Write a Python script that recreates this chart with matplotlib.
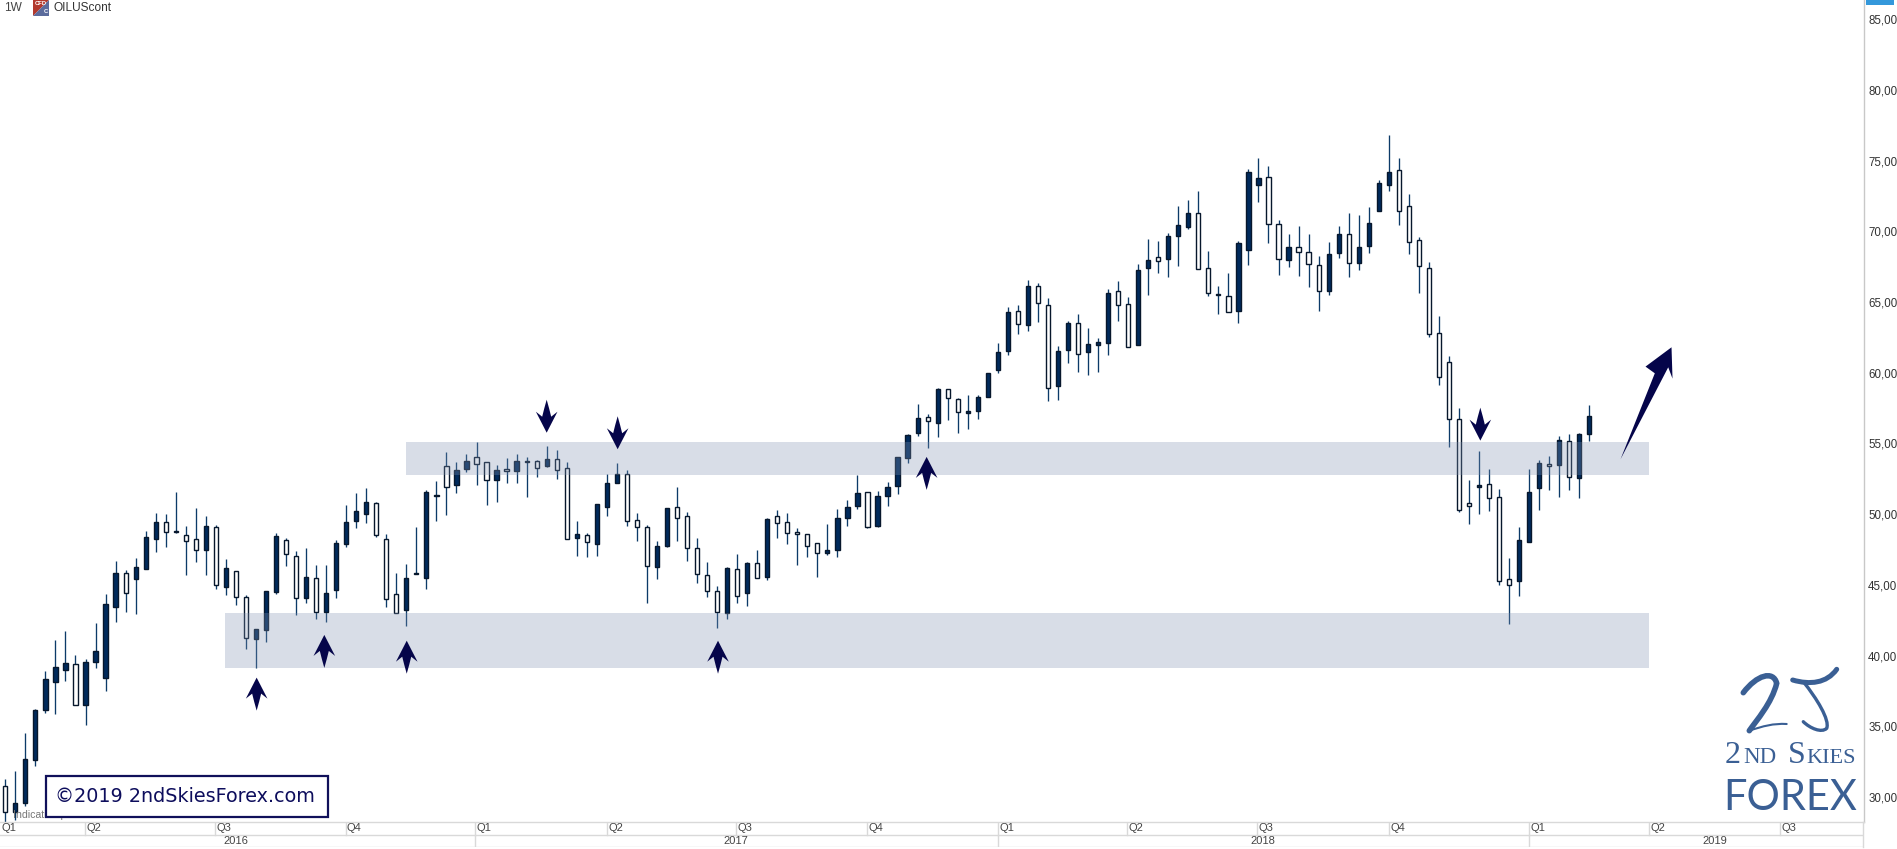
import matplotlib
matplotlib.use("Agg")
import matplotlib.pyplot as plt
from matplotlib.patches import Polygon, Rectangle, PathPatch
from matplotlib.path import Path
from matplotlib.transforms import IdentityTransform

# weekly candles, oldest first
bar_high = [31.27,31.84,34.50,36.20,38.89,41.08,41.72,40.02,39.74,42.30,44.33,46.67,46.03,46.88,48.79,50.06,49.99,51.55,49.14,50.41,
 49.85,49.21,46.81,45.96,44.26,41.88,44.59,48.65,48.29,47.37,47.59,46.38,46.38,48.15,50.63,51.47,51.83,50.84,48.58,45.82,
 46.45,49.07,51.69,52.32,54.37,53.67,54.23,55.08,53.67,53.46,53.95,54.23,54.02,53.81,54.82,54.52,53.67,49.49,48.65,50.70,
 52.82,53.60,53.10,50.06,49.21,48.08,50.41,51.90,50.13,48.29,46.60,44.90,46.24,47.16,46.60,47.44,49.71,50.27,50.06,49.00,
 48.58,47.94,49.28,50.34,50.98,52.75,51.55,51.62,52.25,54.07,55.65,57.79,57.06,58.90,58.83,58.19,58.40,58.40,59.96,62.08,
 64.63,64.77,66.54,66.33,65.26,61.87,63.64,64.13,63.14,62.44,65.90,66.47,65.34,67.67,69.46,69.32,69.86,71.79,72.22,72.85,
 68.59,66.12,67.04,69.30,74.39,75.17,74.60,70.78,69.79,70.36,69.79,68.24,69.23,70.36,71.28,71.14,71.70,73.61,76.82,75.17,
 72.62,69.58,67.81,64.00,61.17,57.49,52.40,54.45,53.18,51.76,46.88,49.07,53.18,53.81,54.10,55.51,55.65,55.72,57.70]
bar_top = [30.80,29.55,32.66,36.13,38.32,39.17,39.45,39.38,39.52,40.30,43.62,45.82,45.82,46.24,48.36,49.42,49.42,48.79,48.50,48.22,
 49.14,49.07,46.17,45.96,44.12,41.88,44.54,48.43,48.15,47.02,45.58,45.46,44.40,47.94,49.42,50.20,50.84,50.77,48.22,44.33,
 45.46,45.82,51.55,51.33,53.38,53.10,53.74,54.02,53.67,53.10,53.17,53.74,53.74,53.74,53.88,53.88,53.24,48.58,48.50,50.70,
 52.18,52.82,52.82,49.57,49.07,47.73,50.41,50.48,49.85,47.59,45.68,44.54,46.17,46.10,46.52,46.52,49.64,49.85,49.42,48.72,
 48.58,47.94,47.44,49.71,50.48,51.47,51.55,51.26,51.90,54.02,55.58,56.78,56.85,58.83,58.83,58.12,57.27,58.26,59.96,61.45,
 64.27,64.35,66.11,66.11,64.77,61.52,63.50,63.50,62.01,62.15,65.62,65.76,64.84,67.24,67.95,68.16,69.65,70.43,71.27,71.27,
 67.39,65.55,65.41,69.16,74.18,73.75,73.83,70.50,68.87,68.87,68.52,67.60,68.38,69.79,69.79,68.87,70.57,73.40,74.18,74.32,
 71.77,69.37,67.39,62.79,60.74,56.71,50.77,52.04,52.12,51.20,45.40,48.15,51.55,53.60,53.53,55.23,55.16,55.65,56.92]
bar_bottom = [28.91,28.91,29.60,32.59,36.13,38.16,38.96,36.48,36.48,39.52,38.39,43.46,44.40,45.39,46.10,48.22,48.72,48.72,48.08,47.44,
 47.44,44.97,44.83,44.12,41.22,41.15,41.79,44.47,47.16,44.05,44.05,43.06,43.06,44.61,47.87,49.49,49.99,48.50,43.98,42.99,
 43.20,45.79,45.46,51.31,51.90,52.04,53.17,53.53,52.39,52.39,53.03,53.03,53.67,53.24,53.38,53.10,48.22,48.29,48.01,47.87,
 50.48,52.18,49.49,49.07,46.31,46.24,47.73,49.71,47.59,45.75,44.54,43.06,42.99,44.19,44.40,45.46,45.53,49.35,48.65,48.58,
 47.73,47.23,47.23,47.44,49.71,50.56,49.07,49.14,51.31,52.02,53.95,55.72,56.57,56.42,58.19,57.20,57.13,57.27,58.26,60.17,
 61.52,63.43,63.36,64.91,58.90,59.04,61.59,61.30,61.45,61.94,62.08,64.77,61.80,61.94,67.39,67.88,68.02,69.69,70.33,67.34,
 65.62,65.48,64.28,64.35,68.66,73.26,70.50,68.03,67.96,68.52,67.67,65.76,65.76,68.45,67.74,67.74,68.95,71.42,73.26,71.42,
 69.23,67.53,62.72,59.68,56.71,50.28,50.56,51.90,51.13,45.26,44.97,45.26,48.01,51.83,53.39,53.46,52.61,52.54,55.65]
bar_low = [28.25,28.37,29.39,32.19,35.96,35.89,38.23,36.48,35.11,39.15,37.52,42.40,43.11,42.96,46.10,47.35,47.70,48.65,45.72,46.64,
 45.72,44.69,44.31,43.60,40.49,39.10,40.98,44.33,46.36,42.89,43.74,42.61,42.40,44.10,47.70,49.05,49.40,48.36,43.46,42.99,
 42.12,45.79,44.73,49.54,49.92,51.47,52.96,52.04,50.63,50.84,52.18,52.18,51.19,52.61,53.31,52.46,48.22,47.02,46.95,47.02,
 49.85,52.18,49.14,48.13,43.70,45.44,47.66,48.08,46.67,45.11,44.17,41.97,42.56,43.70,43.53,45.46,45.32,48.29,47.92,46.38,
 46.95,45.53,47.09,46.95,49.14,50.34,49.00,49.07,50.60,51.45,53.64,55.55,54.70,55.48,56.68,55.76,56.05,56.75,58.26,60.01,
 61.28,62.77,62.98,63.61,58.03,58.10,60.71,60.08,59.87,60.08,61.28,63.69,61.80,61.94,65.52,67.08,66.80,67.57,70.17,67.34,
 65.46,64.18,64.28,63.55,67.65,72.10,69.20,66.94,67.51,66.87,66.09,64.40,65.53,68.14,66.80,67.30,68.50,71.42,72.88,70.48,
 68.43,65.67,62.56,59.16,54.73,50.14,49.33,50.04,50.25,45.02,42.26,44.24,48.01,50.32,51.74,51.24,51.74,51.17,55.20]
bar_rising = [0,1,1,1,1,1,1,0,1,1,1,1,0,1,1,1,0,1,0,0,1,0,1,0,0,1,1,1,0,0,1,0,1,1,1,1,1,0,0,0,
 1,1,1,1,0,1,1,0,0,1,0,1,1,0,1,0,0,1,0,1,1,1,0,0,0,1,1,0,0,0,0,0,1,0,1,0,1,0,0,0,
 0,0,1,1,1,1,0,1,1,1,1,1,0,1,0,0,1,1,1,1,1,0,1,0,0,1,1,0,1,1,1,0,0,1,1,0,1,1,1,0,
 0,1,0,1,1,1,0,0,1,0,0,0,1,1,0,1,1,1,1,0,0,0,0,0,0,0,0,1,0,0,0,1,1,1,0,1,0,1,1]

price_ticks = [30, 35, 40, 45, 50, 55, 60, 65, 70, 75, 80, 85]
price_labels = ["30,00","35,00","40,00","45,00","50,00","55,00","60,00","65,00","70,00","75,00","80,00","85,00"]

quarter_pos = [-0.53, 7.92, 20.9, 33.95, 46.9, 60.0, 72.9, 86.0, 99.0, 111.9, 124.9, 138.0, 152.0, 164.0, 177.0]
quarter_labels = ["Q1","Q2","Q3","Q4","Q1","Q2","Q3","Q4","Q1","Q2","Q3","Q4","Q1","Q2","Q3"]
year_pos = [46.9, 99.0, 152.0]
year_label_pos = [23.0, 72.9, 125.4, 170.5]
year_labels = ["2016", "2017", "2018", "2019"]

zones = [(39.97, 163.96, 52.77, 55.13), (21.9, 163.96, 39.10, 43.04)]
up_arrows = [(25.07, 38.44), (31.82, 41.46), (40.04, 41.05), (71.09, 41.05), (91.9, 54.05)]
down_arrows = [(54.0, 55.76), (61.08, 54.59), (147.13, 55.2)]
big_arrow_tip = (166.2, 61.8)

W, H = 1897, 849
fig = plt.figure(figsize=(W/100, H/100), dpi=100, facecolor="white")
ax = fig.add_axes([0, 27/H, 1864/W, 822/H])
ax.set_xlim(-0.53, 185.4)
ax.set_ylim(28.23, 86.36)

DARK = "#002a5c"; EDGE = "#07172c"; WICK = "#0c3a68"; NAVY = "#05054a"; LOGO = "#3a5f94"
xs = list(range(len(bar_high)))
ax.vlines(xs, bar_low, bar_high, color=WICK, lw=0.95, zorder=2)
heights = [t - b for t, b in zip(bar_top, bar_bottom)]
colors = [DARK if r else "white" for r in bar_rising]
ax.bar(xs, heights, bottom=bar_bottom, width=0.42, color=colors, edgecolor=EDGE, linewidth=1.0, zorder=3)

for x0, x1, y0, y1 in zones:
    ax.add_patch(Rectangle((x0, y0), x1-x0, y1-y0, facecolor="#8294b3", alpha=0.31, edgecolor="none", zorder=4))

for s in ("top", "left", "bottom"):
    ax.spines[s].set_visible(False)
ax.spines["right"].set_color("#c8c8c8")
ax.spines["right"].set_linewidth(1.0)
ax.set_xticks([])
ax.yaxis.tick_right()
ax.set_yticks(price_ticks, price_labels)
ax.tick_params(axis="y", length=0, pad=3, labelsize=8.3, labelcolor="#333333")
for t in ax.get_yticklabels():
    t.set_fontfamily("Liberation Sans")

fig.canvas.draw()
def arrow(anchor, offsets):
    ax_, ay_ = ax.transData.transform(anchor)
    verts = [(ax_ + dx, ay_ - dy) for dx, dy in offsets]
    fig.add_artist(Polygon(verts, closed=True, facecolor=NAVY, edgecolor="none",
                           transform=IdentityTransform(), zorder=6))
up_shape = [(0,0),(10.8,21),(4.5,16),(2.5,24),(0,33),(-2.5,24),(-4.5,16),(-10.8,21)]
down_shape = [(x, -y) for x, y in up_shape]
for a in up_arrows:
    arrow(a, up_shape)
for a in down_arrows:
    arrow(a, down_shape)
arrow(big_arrow_tip, [(0,0),(1,31.3),(-3.3,20),(-51,112),(-16.7,26),(-26,19.3)])

# time band
band = fig.add_axes([0, 2/H, 1864/W, 25/H], sharex=ax)
band.set_ylim(0, 1)
band.axis("off")
GRID = "#d9d9d9"
band.plot([-0.53, 185.4], [1, 1], color=GRID, lw=1.0, clip_on=False)
band.plot([-0.53, 185.4], [0.5, 0.5], color=GRID, lw=1.0)
band.plot([-0.53, 185.4], [0.02, 0.02], color=GRID, lw=1.0)
band.plot([185.35, 185.35], [0, 1], color=GRID, lw=1.0, clip_on=False)
for q, lab in zip(quarter_pos, quarter_labels):
    if q > 0:
        band.plot([q, q], [0.5, 1], color=GRID, lw=1.0)
    band.text(q + 0.13, 0.75, lab, ha="left", va="center", fontsize=8.0, color="#444444", family="Liberation Sans")
for y in year_pos:
    band.plot([y, y], [0, 0.5], color=GRID, lw=1.0)
for xp, lab in zip(year_label_pos, year_labels):
    band.text(xp, 0.25, lab, ha="center", va="center", fontsize=8.0, color="#444444", family="Liberation Sans")

# overlay in pixel coordinates for the decorations
ov = fig.add_axes([0, 0, 1, 1], facecolor="none")
ov.set_xlim(0, W)
ov.set_ylim(H, 0)
ov.axis("off")
ov.text(4, 8, "1W", fontsize=8.6, va="center", color="#444444", family="Liberation Sans")
ov.add_patch(Polygon([(33,0),(49,0),(33,16)], facecolor="#b2392d", edgecolor="none"))
ov.add_patch(Polygon([(49,0),(49,16),(33,16)], facecolor="#5b6b9c", edgecolor="none"))
ov.text(41, 3.5, "CFD", fontsize=4.2, color="white", ha="center", va="center", weight="bold", family="Liberation Sans")
ov.text(46, 11.5, "C", fontsize=4.2, color="white", ha="center", va="center", weight="bold", family="Liberation Sans")
ov.text(53, 8, "OILUScont", fontsize=8.6, va="center", color="#333333", family="Liberation Sans")
ov.add_patch(Rectangle((1866, 0), 28, 5, facecolor="#3498db", edgecolor="none"))

ov.text(13, 815.5, "Indicative price", fontsize=7.6, va="center", color="#777777", family="Liberation Sans")
ov.add_patch(Rectangle((45.5, 776), 282.5, 40.5, facecolor="white", edgecolor="#10105a", lw=1.6, zorder=5))
ov.text(55, 797, "\u00a92019 2ndSkiesForex.com", fontsize=13.8, va="center", ha="left", color="#0d0d5c",
        family="DejaVu Sans", zorder=6)

def stroke(points, lw):
    codes = [Path.MOVETO] + [Path.CURVE4] * (len(points) - 1)
    ov.add_patch(PathPatch(Path(points, codes), facecolor="none", edgecolor=LOGO, lw=lw, capstyle="round"))
stroke([(1743.3,692.7),(1756.7,675),(1773.3,670),(1776.7,683.3),(1771.7,703.3),(1756.7,720),(1749.3,730.7)], 4.0)
stroke([(1749.3,730.7),(1763.3,726),(1773.3,723.3),(1786.7,724)], 1.5)
stroke([(1792.7,680),(1810,685),(1826.7,683.3),(1836.7,669.3)], 3.6)
stroke([(1803.3,681.7),(1816.7,698.3),(1830,720),(1826.7,728.3),(1821.7,733.3),(1810,728.3),(1803.3,721.7)], 2.4)
for x, txt, size in [(1725, "2", 23.0), (1743, "ND", 16.5), (1788, "S", 23.0), (1806.5, "KIES", 16.0)]:
    ov.text(x, 763, txt, fontsize=size, va="baseline", ha="left", color=LOGO, family="Liberation Serif")
ov.text(1723, 810, "FOREX", fontsize=30, va="baseline", ha="left", color=LOGO, family="Lato")

fig.savefig("out.png", dpi=100, facecolor="white")
